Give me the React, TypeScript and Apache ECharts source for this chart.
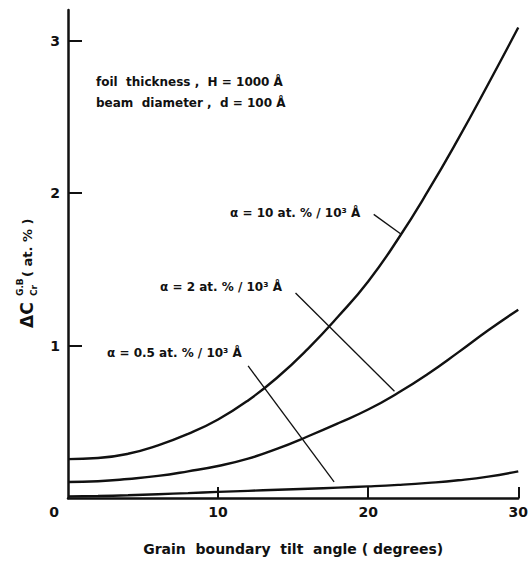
import React, { useEffect, useRef } from "react";
import * as echarts from "echarts";

// Grain boundary tilt angle (degrees)
const angles = [0, 2, 4, 6, 8, 10, 12, 14, 16, 18, 20, 22, 24, 26, 28, 30];
// ΔC_Cr^{G.B} (at.%) for each concentration gradient α
const alpha10 = [0.255, 0.262, 0.29, 0.345, 0.42, 0.515, 0.64, 0.795, 0.98, 1.19, 1.42, 1.7, 2.015, 2.355, 2.715, 3.085];
const alpha2 = [0.105, 0.11, 0.125, 0.145, 0.175, 0.21, 0.258, 0.325, 0.405, 0.49, 0.58, 0.69, 0.815, 0.955, 1.1, 1.235];
const alpha05 = [0.01, 0.013, 0.018, 0.025, 0.032, 0.04, 0.047, 0.054, 0.061, 0.068, 0.076, 0.086, 0.099, 0.116, 0.14, 0.175];

// leader lines from labels to curves (data coordinates)
const leader10 = [[20.37, 1.86], [22.2, 1.73]];
const leader2 = [[15.16, 1.344], [21.75, 0.7]];
const leader05 = [[12.0, 0.866], [17.73, 0.105]];

const xTicks = [0, 10, 20, 30];
const yTicks = [1, 2, 3];

const FONT = "'DejaVu Sans', 'Liberation Sans', Arial, sans-serif";

export default function App() {
  const ref = useRef<HTMLDivElement>(null);
  useEffect(() => {
    if (!ref.current) return;
    const chart = echarts.init(ref.current, null, { renderer: "svg" });
    const toPairs = (ys: number[]) => angles.map((a, i) => [a, ys[i]]);
    const curve = (name: string, ys: number[]) => ({
      name,
      type: "line",
      data: toPairs(ys),
      smooth: 0.5,
      showSymbol: false,
      symbol: "none",
      lineStyle: { color: "#111", width: 2.4 },
      z: 3,
    });
    const leader = (pts: number[][]) => ({
      type: "line",
      data: pts,
      showSymbol: false,
      symbol: "none",
      lineStyle: { color: "#111", width: 1.3 },
      z: 2,
    });
    const txt = (text: string, x: number, y: number, size = 12) => ({
      type: "text",
      x,
      y,
      style: {
        text,
        fill: "#111",
        font: `bold ${size}px ${FONT}`,
        align: "left",
        verticalAlign: "middle",
      },
    });
    chart.setOption({
      animation: false,
      backgroundColor: "#fff",
      grid: { left: 68, right: 8, top: 10, bottom: 63, containLabel: false },
      xAxis: {
        type: "value",
        min: 0,
        max: 30,
        interval: 10,
        splitLine: { show: false },
        axisLine: { lineStyle: { color: "#111", width: 2.5 } },
        axisTick: {
          inside: true,
          length: 11,
          customValues: [10, 20, 30],
          lineStyle: { color: "#111", width: 2 },
        },
        axisLabel: {
          customValues: xTicks,
          margin: 7,
          color: "#111",
          fontSize: 14,
          fontWeight: "bold",
          fontFamily: FONT,
          formatter: (v: number) => (v === 0 ? "{z|0}" : String(v)),
          rich: {
            z: { padding: [0, 28, 0, 0], fontSize: 14, fontWeight: "bold", fontFamily: FONT, color: "#111" },
          },
        },
        name: "Grain  boundary  tilt  angle ( degrees)",
        nameLocation: "middle",
        nameGap: 44,
        nameTextStyle: { color: "#111", fontSize: 14, fontWeight: "bold", fontFamily: FONT },
      },
      yAxis: {
        type: "value",
        min: 0,
        max: 3.2,
        interval: 1,
        splitLine: { show: false },
        axisLine: { lineStyle: { color: "#111", width: 2.5 } },
        axisTick: {
          inside: true,
          length: 14,
          customValues: yTicks,
          lineStyle: { color: "#111", width: 2 },
        },
        axisLabel: {
          customValues: yTicks,
          margin: 8,
          color: "#111",
          fontSize: 14,
          fontWeight: "bold",
          fontFamily: FONT,
        },
      },
      series: [
        curve("α=10", alpha10),
        curve("α=2", alpha2),
        curve("α=0.5", alpha05),
        leader(leader10),
        leader(leader2),
        leader(leader05),
      ],
      graphic: [
        txt("foil  thickness ,  H = 1000 Å", 96, 82),
        txt("beam  diameter ,  d = 100 Å", 96, 103),
        txt("α = 10 at. % / 10³ Å", 230, 213),
        txt("α = 2 at. % / 10³ Å", 160, 287),
        txt("α = 0.5 at. % / 10³ Å", 107, 353),
        {
          type: "group",
          x: 27,
          y: 270,
          rotation: Math.PI / 2,
          children: [
            {
              type: "text",
              x: -58,
              y: 0,
              style: { text: "ΔC", fill: "#111", font: `bold 17px ${FONT}`, align: "left", verticalAlign: "middle" },
            },
            {
              type: "text",
              x: -26,
              y: -7,
              style: { text: "G.B", fill: "#111", font: `bold 9px ${FONT}`, align: "left", verticalAlign: "middle" },
            },
            {
              type: "text",
              x: -26,
              y: 7,
              style: { text: "Cr", fill: "#111", font: `bold 9px ${FONT}`, align: "left", verticalAlign: "middle" },
            },
            {
              type: "text",
              x: -7,
              y: 0,
              style: { text: "( at. % )", fill: "#111", font: `bold 13px ${FONT}`, align: "left", verticalAlign: "middle" },
            },
          ],
        },
      ],
    });
    return () => chart.dispose();
  }, []);
  return (
    <div
      ref={ref}
      style={{ position: "fixed", left: 0, top: 0, width: 531, height: 561, background: "#fff" }}
    />
  );
}
